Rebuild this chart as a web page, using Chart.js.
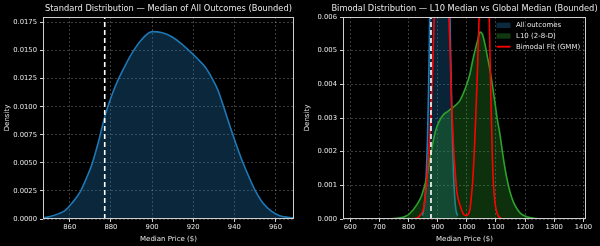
<!DOCTYPE html>
<html>
<head>
<meta charset="utf-8">
<script src="https://cdn.jsdelivr.net/npm/chart.js@4/dist/chart.umd.min.js"></script>
<style>
  html, body { margin: 0; padding: 0; background: #000; }
  #wrap { display: flex; width: 600px; height: 246px; }
  .cell { width: 300px; height: 246px; position: relative; }
  canvas { display: block; }
</style>
</head>
<body>
<div id="wrap">
  <div class="cell"><canvas id="left" width="300" height="246"></canvas></div>
  <div class="cell"><canvas id="right" width="300" height="246"></canvas></div>
</div>
<script>
// ---------- data ----------
const globalMedian = 877;

// Standard distribution KDE (all outcomes)
const allX = [847, 850, 855, 858, 861, 865, 868, 871, 874, 877, 880, 883, 887, 891, 895, 900, 905, 910, 915, 918, 922, 926, 929, 932, 935, 938, 941, 944, 947, 950, 954, 958, 962, 966, 969];
const allDensity = [0.0001, 0.0002, 0.0005, 0.0008, 0.0014, 0.0024, 0.0036, 0.005, 0.0069, 0.0091, 0.0108, 0.0122, 0.0137, 0.0150, 0.0160, 0.0167, 0.0166, 0.0162, 0.0155, 0.0150, 0.0143, 0.0135, 0.0126, 0.0115, 0.0099, 0.0082, 0.0066, 0.0051, 0.0038, 0.0026, 0.0014, 0.0007, 0.0003, 0.00015, 0.0001];

// L10 (2-8-D) KDE
const l10X = [578, 700, 760, 790, 805, 828, 845, 860, 870, 880, 892, 905, 920, 935, 950, 960, 975, 988, 1000, 1011, 1020, 1028, 1037, 1045, 1053, 1062, 1071, 1080, 1089, 1097, 1105, 1114, 1122, 1131, 1140, 1148, 1160, 1171, 1185, 1205, 1230, 1260, 1392];
const l10Density = [0, 0, 0.00002, 0.00008, 0.00017, 0.00042, 0.0007, 0.00115, 0.0016, 0.0021, 0.0026, 0.0029, 0.0031, 0.0032, 0.0033, 0.00337, 0.0035, 0.00373, 0.004, 0.00432, 0.0047, 0.005, 0.0053, 0.00555, 0.0055, 0.0052, 0.0048, 0.0044, 0.0039, 0.00343, 0.00294, 0.0025, 0.002, 0.0015, 0.0011, 0.00081, 0.0005, 0.00032, 0.00016, 0.00007, 0.00002, 0, 0];

// Bimodal fit (GMM)
const gmmX = [578, 800, 830, 840, 851, 860, 868, 876, 884, 892, 902, 913, 924, 934, 942, 948, 954, 960, 966, 977, 988, 996, 1004, 1011, 1016, 1020, 1025, 1030, 1036, 1043, 1050, 1060, 1070, 1077, 1082, 1088, 1093, 1098, 1105, 1115, 1130, 1392];
const gmmDensity = [0, 0, 0.00003, 0.00012, 0.0003, 0.0009, 0.0018, 0.0029, 0.0048, 0.0072, 0.0095, 0.0106, 0.0095, 0.0072, 0.0051, 0.0034, 0.0022, 0.0014, 0.0008, 0.0004, 0.00015, 0.0001, 0.00013, 0.0003, 0.0007, 0.0011, 0.0019, 0.0029, 0.0043, 0.0062, 0.0085, 0.0105, 0.0085, 0.006, 0.0038, 0.0017, 0.0008, 0.0004, 0.00015, 0.00003, 0, 0];

// ticks
const leftXTicks = [860, 880, 900, 920, 940, 960];
const leftYTicks = [0, 0.0025, 0.005, 0.0075, 0.01, 0.0125, 0.015, 0.0175];
const rightXTicks = [600, 700, 800, 900, 1000, 1100, 1200, 1300, 1400];
const rightYTicks = [0, 0.001, 0.002, 0.003, 0.004, 0.005, 0.006];

const leftTitle = 'Standard Distribution \u2014 Median of All Outcomes (Bounded)';
const rightTitle = 'Bimodal Distribution \u2014 L10 Median vs Global Median (Bounded)';
const legendLabels = ['All outcomes', 'L10 (2-8-D)', 'Bimodal Fit (GMM)'];

// ---------- styling ----------
const FONT = 'DejaVu Sans';
const TXT = '#e6e6e6';
const GRID = 'rgba(255,255,255,0.30)';
const SPINE = '#cfcfcf';
const BLUE = '#1f77b4';
const GREEN = '#2ca02c';
const RED = '#ff0000';

const pts = (xs, ys) => xs.map((x, i) => ({ x: x, y: ys[i] }));

const spinePlugin = {
  id: 'spines',
  afterDatasetsDraw(chart) {
    const a = chart.chartArea, ctx = chart.ctx;
    ctx.save();
    ctx.strokeStyle = SPINE;
    ctx.lineWidth = 1;
    ctx.strokeRect(Math.round(a.left) + 0.5, Math.round(a.top) + 0.5, Math.round(a.right - a.left) - 1, Math.round(a.bottom - a.top) - 1);
    ctx.restore();
  }
};

const titlePlugin = {
  id: 'freeTitle',
  afterDraw(chart, args, opts) {
    const a = chart.chartArea, ctx = chart.ctx;
    ctx.save();
    ctx.font = '8.3px "' + FONT + '"';
    ctx.fillStyle = TXT;
    ctx.textAlign = 'center';
    ctx.textBaseline = 'middle';
    ctx.fillText(opts.text, (a.left + a.right) / 2, 8.5);
    ctx.restore();
  }
};

function xScale(min, max, ticks) {
  return {
    type: 'linear', min: min, max: max,
    afterBuildTicks: s => { s.ticks = ticks.map(v => ({ value: v })); },
    afterFit: s => { s.height = 27; },
    border: { display: false, dash: [2, 2] },
    grid: { color: GRID, lineWidth: 0.8, drawTicks: true, tickLength: 3, tickColor: SPINE, tickWidth: 1, tickBorderDash: [] },
    ticks: { color: TXT, font: { family: FONT, size: 6.8 }, padding: 1.5, maxRotation: 0, autoSkip: false, callback: v => String(v) },
    title: { display: true, text: 'Median Price ($)', color: TXT, font: { family: FONT, size: 7 }, padding: { top: 3, bottom: 3 } }
  };
}
function yScale(min, max, ticks, dec) {
  return {
    type: 'linear', min: min, max: max,
    afterBuildTicks: s => { s.ticks = ticks.map(v => ({ value: v })); },
    afterFit: s => { s.width = 43; },
    border: { display: false, dash: [2, 2] },
    grid: { color: GRID, lineWidth: 0.8, drawTicks: true, tickLength: 3, tickColor: SPINE, tickWidth: 1, tickBorderDash: [] },
    ticks: { color: TXT, font: { family: FONT, size: 6.8 }, padding: 3, callback: v => Number(v).toFixed(dec), autoSkip: false },
    title: { display: true, text: 'Density', color: TXT, font: { family: FONT, size: 7 }, padding: { top: 3, bottom: 3 } }
  };
}
const medianLine = (top) => ({
  data: [{ x: globalMedian, y: 0 }, { x: globalMedian, y: top }],
  borderColor: '#ffffff', borderWidth: 1.6, borderDash: [5, 3], pointRadius: 0, fill: false
});

// ---------- left chart ----------
new Chart(document.getElementById('left'), {
  type: 'line',
  data: {
    datasets: [
      medianLine(0.018),
      { data: pts(allX, allDensity), borderColor: BLUE, borderWidth: 1.6, backgroundColor: 'rgba(31,119,180,0.33)', fill: 'origin', pointRadius: 0, cubicInterpolationMode: 'monotone' }
    ]
  },
  options: {
    responsive: false, animation: false, events: [],
    layout: { padding: { left: 0, right: 6, top: 17, bottom: 0 } },
    plugins: { legend: { display: false }, tooltip: { enabled: false }, title: { display: false }, freeTitle: { text: leftTitle } },
    scales: { x: xScale(847, 969, leftXTicks), y: yScale(0, 0.018, leftYTicks, 4) }
  },
  plugins: [spinePlugin, titlePlugin]
});

// ---------- right chart ----------
const legendPlugin = {
  id: 'boxLegend',
  afterDraw(chart) {
    const ctx = chart.ctx;
    const x0 = 196.5, rows = [25.3, 36, 46.7];
    ctx.save();
    ctx.font = '7px "' + FONT + '"';
    ctx.textBaseline = 'middle';
    ctx.fillStyle = 'rgba(31,119,180,0.35)';
    ctx.fillRect(x0, rows[0] - 2.7, 14, 5.4);
    ctx.fillStyle = 'rgba(44,160,44,0.35)';
    ctx.fillRect(x0, rows[1] - 2.7, 14, 5.4);
    ctx.strokeStyle = RED; ctx.lineWidth = 1.8;
    ctx.beginPath(); ctx.moveTo(x0, rows[2]); ctx.lineTo(x0 + 14, rows[2]); ctx.stroke();
    ctx.fillStyle = TXT;
    legendLabels.forEach((t, i) => ctx.fillText(t, x0 + 19.5, rows[i] + 0.3));
    ctx.restore();
  }
};

new Chart(document.getElementById('right'), {
  type: 'line',
  data: {
    datasets: [
      medianLine(0.006),
      { data: pts(gmmX, gmmDensity), borderColor: RED, borderWidth: 1.6, fill: false, pointRadius: 0, cubicInterpolationMode: 'monotone' },
      { data: pts(l10X, l10Density), borderColor: GREEN, borderWidth: 1.6, backgroundColor: 'rgba(44,160,44,0.3)', fill: 'origin', pointRadius: 0, cubicInterpolationMode: 'monotone' },
      { data: pts(allX, allDensity), borderColor: BLUE, borderWidth: 1.6, backgroundColor: 'rgba(31,119,180,0.3)', fill: 'origin', pointRadius: 0, cubicInterpolationMode: 'monotone' }
    ]
  },
  options: {
    responsive: false, animation: false, events: [],
    layout: { padding: { left: 0, right: 14, top: 17, bottom: 0 } },
    plugins: { legend: { display: false }, tooltip: { enabled: false }, title: { display: false }, freeTitle: { text: rightTitle } },
    scales: { x: xScale(575, 1409, rightXTicks), y: yScale(0, 0.006, rightYTicks, 3) }
  },
  plugins: [spinePlugin, legendPlugin, titlePlugin]
});
</script>
</body>
</html>
